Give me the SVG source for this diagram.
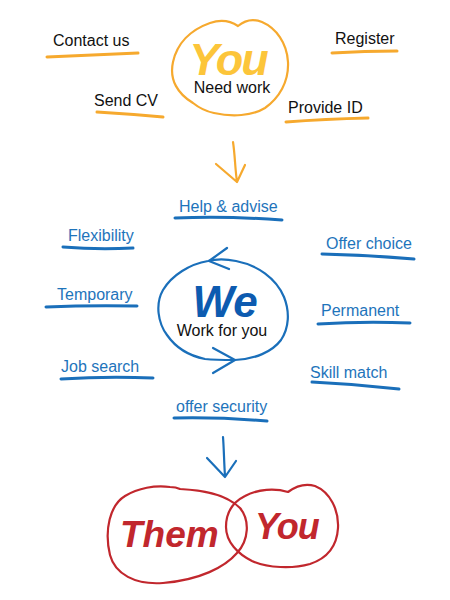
<svg xmlns="http://www.w3.org/2000/svg" width="450" height="600" viewBox="0 0 450 600">
<style>
text{font-family:"Liberation Sans",Arial,sans-serif;font-size:16px}
.blk{fill:#111}
.blu{fill:#1e74bb}
.ul{fill:none;stroke-linecap:round;stroke-width:3}
.o{stroke:#f6a92e}
.b{stroke:#1a6fba}
.line{fill:none;stroke-width:2.2;stroke-linecap:round;stroke-linejoin:round}
.big{font-weight:bold;font-style:italic}
</style>
<rect width="450" height="600" fill="#fff"/>
<g id="you-node">
<path class="line o" d="M193 103 C178 94 169 80 173 62 C177 44 190 30 210 23 C222 19 232 22 238 26 C244 21 252 18 262 22 C276 28 287 43 288 62 C289 82 279 98 265 108 C252 116 232 117 214 113 C204 111 198 107 193 103 Z"/>
<text x="228" y="75" text-anchor="middle" class="big" style="font-size:45px;letter-spacing:-2px" fill="#fcc53a">You</text>
<text x="232" y="93" text-anchor="middle" class="blk">Need work</text>
</g>
<g id="contact-us"><text x="53" y="46" class="blk">Contact us</text><path class="ul o" d="M47 57 Q90 55 138 53"/></g>
<g id="register"><text x="335" y="44" class="blk">Register</text><path class="ul o" d="M332 53 Q365 51 397 51"/></g>
<g id="send-cv"><text x="94" y="106" class="blk">Send CV</text><path class="ul o" d="M97 112 Q130 114 163 117"/></g>
<g id="provide-id"><text x="288" y="113" class="blk">Provide ID</text><path class="ul o" d="M286 122 Q325 119 368 118"/></g>
<g id="we-node">
<path class="line b" d="M235 360 C255 359 272 352 281 340 C289 328 290 312 284 297 C276 278 257 265 236 261 C226 259 216 259 208 261 C190 264 172 275 163 290 C155 304 158 323 167 335 C176 348 190 356 205 359 C215 360 226 360 235 360"/>
<path class="line b" d="M227 248 L209 261 L229 269"/>
<path class="line b" d="M213 348 L235 360 L213 373"/>
<text x="225" y="317" text-anchor="middle" class="big" style="font-size:44px" fill="#0d5bb0">We</text>
<text x="222" y="336" text-anchor="middle" class="blk">Work for you</text>
</g>
<g id="help-advise"><text x="179" y="212" class="blu">Help &amp; advise</text><path class="ul b" d="M175 218 Q228 216 282 220"/></g>
<g id="flexibility"><text x="68" y="241" class="blu">Flexibility</text><path class="ul b" d="M63 247 Q98 250 133 248"/></g>
<g id="offer-choice"><text x="326" y="249" class="blu">Offer choice</text><path class="ul b" d="M322 254 Q368 255 414 259"/></g>
<g id="temporary"><text x="57" y="300" class="blu">Temporary</text><path class="ul b" d="M46 307 Q90 305 137 306"/></g>
<g id="permanent"><text x="321" y="316" class="blu">Permanent</text><path class="ul b" d="M318 324 Q364 321 410 323"/></g>
<g id="job-search"><text x="61" y="372" class="blu">Job search</text><path class="ul b" d="M61 379 Q107 376 153 378"/></g>
<g id="skill-match"><text x="310" y="378" class="blu">Skill match</text><path class="ul b" d="M312 382 Q355 384 399 389"/></g>
<g id="offer-security"><text x="176" y="412" class="blu">offer security</text><path class="ul b" d="M174 418 Q220 417 267 421"/></g>
<g id="them-you-node">
<path class="line" stroke="#c1272d" d="M180 489 C200 490 225 493 240 508 C250 520 249 540 237 553 C225 567 200 580 163 583 C135 585 115 574 110 555 C104 530 110 505 125 496 C138 488 155 485 170 487 C175 487 178 488 180 489 Z"/>
<path class="line" stroke="#c1272d" d="M288 492 C296 486 305 483 315 486 C330 492 339 510 338 528 C337 545 328 558 310 564 C292 569 268 568 252 561 C238 554 226 542 226 527 C226 513 233 502 245 496 C258 489 275 488 288 492 Z"/>
<text x="120" y="547" class="big" style="font-size:37px" fill="#c1272d">Them</text>
<text x="255" y="539" class="big" style="font-size:36px;letter-spacing:-1px" fill="#c1272d">You</text>
</g>
<g id="connectors">
<path class="line o" stroke-width="2.6" d="M233 142 C235 155 235 168 237 182 M216 164 L237 182 L245 165"/>
<path class="line b" stroke-width="2.6" d="M223 437 C224 450 224 462 225 476 M207 458 L225 477 L236 461"/>
</g>
</svg>
